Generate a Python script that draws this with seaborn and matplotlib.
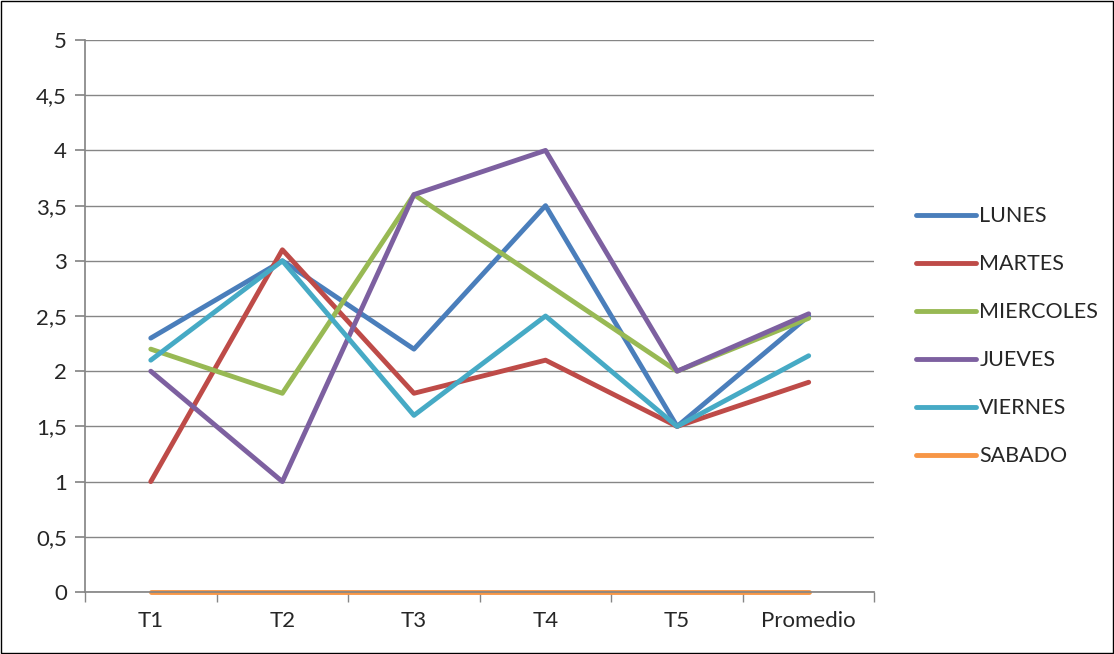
import matplotlib
matplotlib.use("Agg")
import matplotlib.pyplot as plt
import seaborn as sns
import pandas as pd

categories = ["T1", "T2", "T3", "T4", "T5", "Promedio"]
lunes = [2.3, 3.0, 2.2, 3.5, 1.5, 2.5]
martes = [1.0, 3.1, 1.8, 2.1, 1.5, 1.9]
miercoles = [2.2, 1.8, 3.6, 2.8, 2.0, 2.48]
jueves = [2.0, 1.0, 3.6, 4.0, 2.0, 2.52]
viernes = [2.1, 3.0, 1.6, 2.5, 1.5, 2.14]
sabado = [0, 0, 0, 0, 0, 0]
series = {"LUNES": lunes, "MARTES": martes, "MIERCOLES": miercoles,
          "JUEVES": jueves, "VIERNES": viernes, "SABADO": sabado}
colors = ["#4A7EBB", "#BE4B48", "#98B954", "#7D60A0", "#46AAC5", "#F79646"]

rows = []
for name, vals in series.items():
    for i, v in enumerate(vals):
        rows.append({"x": i, "y": v, "serie": name})
df = pd.DataFrame(rows)

sns.set_theme(style="white")
plt.rcParams['font.family'] = ['Lato', 'DejaVu Sans']
fig = plt.figure(figsize=(11.14, 6.54), dpi=100)
ax = fig.add_axes([0.0763, 0.0948, 0.7087, 0.844])
sns.lineplot(data=df, x="x", y="y", hue="serie", palette=colors, linewidth=3.5, ax=ax, legend=False)
for ln in ax.lines:
    ln.set_clip_on(False)
    ln.set_solid_capstyle("round")

ax.set_xlim(-0.5, 5.5)
ax.set_ylim(0, 5)
ax.set_yticks([i * 0.5 for i in range(11)])
ax.set_yticklabels([f"{i*0.5:g}".replace(".", ",") for i in range(11)], fontsize=16)
ax.set_xticks(range(6))
ax.set_xticklabels(categories, fontsize=16)
ax.set_xticks([i - 0.5 for i in range(7)], minor=True)
ax.tick_params(axis="x", which="major", length=0, pad=14)
ax.tick_params(axis="x", which="minor", length=7, color="#868686", direction="out", bottom=True)
ax.tick_params(axis="y", length=7, color="#868686", direction="out", left=True, pad=6)
ax.grid(axis="y", color="#868686", linewidth=1)
ax.set_axisbelow(True)
ax.set_xlabel("")
ax.set_ylabel("")
for s in ["top", "right"]:
    ax.spines[s].set_visible(False)
for s in ["left", "bottom"]:
    ax.spines[s].set_color("#868686")

handles = [plt.Line2D([], [], color=c, linewidth=3.5) for c in colors]
fig.legend(handles, list(series.keys()), loc="center left", bbox_to_anchor=(0.822, 0.486),
           frameon=False, fontsize=15.5, labelspacing=1.3, handlelength=2.8, handletextpad=0.15,
           borderaxespad=0, borderpad=0)

fig.patches.append(plt.Rectangle((0.001, 0.001), 0.998, 0.998, transform=fig.transFigure,
                                 fill=False, edgecolor="black", linewidth=1))
fig.savefig("out.png", dpi=100)
